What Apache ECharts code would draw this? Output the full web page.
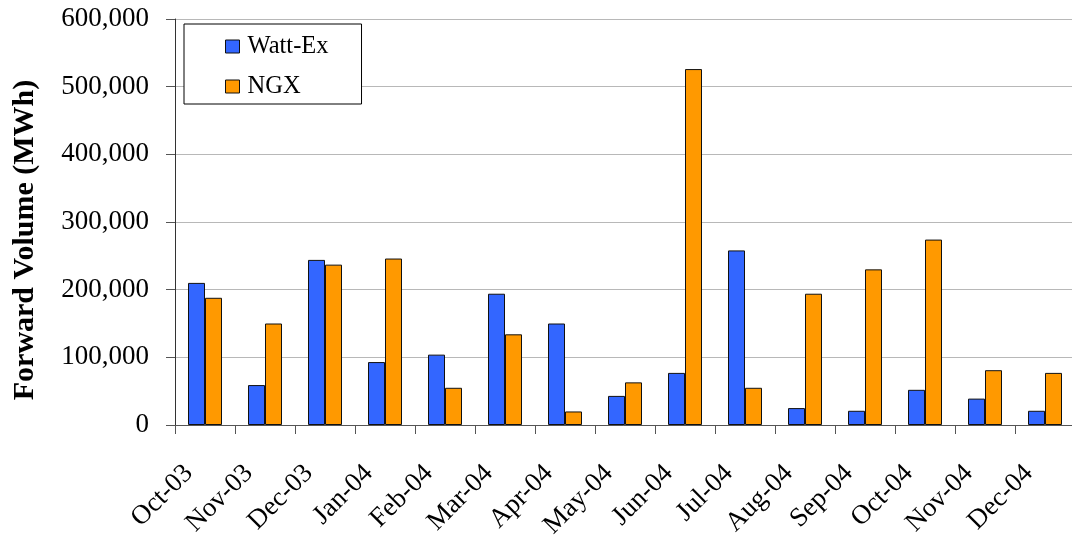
<!DOCTYPE html>
<html>
<head>
<meta charset="utf-8">
<script src="https://cdn.jsdelivr.net/npm/echarts@6/dist/echarts.min.js"></script>
<style>
html,body{margin:0;padding:0;background:#fff;}
#chart{width:1072px;height:535px;}
</style>
</head>
<body>
<div id="chart"></div>
<script>
const categories = ['Oct-03','Nov-03','Dec-03','Jan-04','Feb-04','Mar-04','Apr-04','May-04','Jun-04','Jul-04','Aug-04','Sep-04','Oct-04','Nov-04','Dec-04'];
const wattEx = [210000, 59000, 244000, 93000, 104000, 194000, 150000, 43000, 77000, 258000, 25000, 21000, 52000, 39000, 21000];
const ngx = [188000, 150000, 237000, 246000, 55000, 134000, 20000, 63000, 526000, 55000, 194000, 230000, 274000, 81000, 77000];
const yTicks = [0, 100000, 200000, 300000, 400000, 500000, 600000];

const font = '"Liberation Serif", "Times New Roman", serif';
const chart = echarts.init(document.getElementById('chart'), null, {renderer: 'canvas'});
chart.setOption({
  animation: false,
  backgroundColor: '#ffffff',
  grid: {left: 175, top: 19, width: 900, bottom: 110, containLabel: false, outerBoundsMode: 'none'},
  legend: {
    left: 184, top: 24,
    orient: 'vertical',
    padding: [10, 33, 5, 41],
    itemGap: 15,
    itemWidth: 14, itemHeight: 13,
    backgroundColor: '#fff',
    borderColor: '#000', borderWidth: 1,
    icon: 'rect',
    itemStyle: {borderColor: '#111', borderWidth: 1},
    textStyle: {fontFamily: font, fontSize: 24.5, color: '#000', padding: [0, 0, 0, 3]},
    data: ['Watt-Ex', 'NGX']
  },
  xAxis: {
    type: 'category',
    data: categories,
    axisLine: {lineStyle: {color: '#555', width: 1}},
    axisTick: {show: true, length: 9, alignWithLabel: false, lineStyle: {color: '#555'}},
    axisLabel: {rotate: 45, margin: 28, padding: [0, 23, 0, 0], fontFamily: font, fontSize: 27, color: '#000', interval: 0}
  },
  yAxis: {
    type: 'value',
    min: 0, max: 600000, interval: 100000,
    name: 'Forward Volume (MWh)',
    nameLocation: 'middle',
    nameGap: 135,
    nameTextStyle: {fontFamily: font, fontSize: 30, fontWeight: 'bold', color: '#000', padding: [0, 36, 0, 0]},
    axisLine: {show: true, lineStyle: {color: '#333', width: 1}},
    axisTick: {show: true, length: 9, lineStyle: {color: '#555'}},
    splitLine: {lineStyle: {color: '#b8b8b8', width: 1}},
    axisLabel: {
      margin: 26, fontFamily: font, fontSize: 27, color: '#000',
      formatter: v => yTicks.includes(v) ? v.toLocaleString('en-US') : ''
    }
  },
  series: [
    {name: 'Watt-Ex', type: 'bar', data: wattEx, barWidth: 17, barGap: '0%',
     itemStyle: {color: '#3366FF', borderColor: '#111', borderWidth: 1}},
    {name: 'NGX', type: 'bar', data: ngx, barWidth: 17,
     itemStyle: {color: '#FF9900', borderColor: '#111', borderWidth: 1}}
  ]
});
</script>
</body>
</html>
